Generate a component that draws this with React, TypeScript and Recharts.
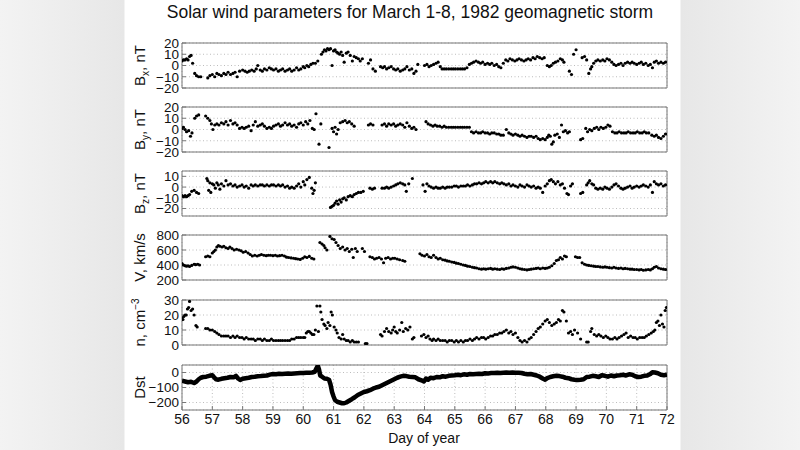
import { ScatterChart, Scatter, LineChart, Line, XAxis, YAxis, CartesianGrid, ReferenceArea } from 'recharts'

const DAY_TICKS = [56, 57, 58, 59, 60, 61, 62, 63, 64, 65, 66, 67, 68, 69, 70, 71, 72]

const B_TICKS = [-20, -10, 0, 10, 20]
const BZ_TICKS = [-20, -10, 0, 10]
const V_TICKS = [200, 400, 600, 800]
const N_TICKS = [0, 10, 20, 30]
const DST_TICKS = [-200, -100, 0]

// [day of year, value]
const BX: [number, number][] = [
  [56.0, 4], [56.05, 5], [56.1, 5], [56.15, 6], [56.2, 5], [56.25, 8], [56.3, 9], [56.35, 2], [56.42, -7], [56.48, -9], [56.55, -10], [56.62, -10],
  [56.85, -11], [56.92, -9], [57.0, -8], [57.08, -10], [57.15, -7], [57.22, -8], [57.3, -9], [57.38, -7], [57.45, -8], [57.52, -6], [57.6, -8], [57.68, -7], [57.75, -6], [57.82, -10],
  [57.9, -5], [58.0, -4], [58.08, -5], [58.15, -6], [58.22, -5], [58.3, -4], [58.38, -5], [58.45, -3], [58.5, 0], [58.58, -4], [58.65, -5], [58.72, -3], [58.8, -4], [58.88, -2], [58.95, -3],
  [59.02, -4], [59.1, -3], [59.18, -5], [59.25, -4], [59.32, -3], [59.4, -5], [59.48, -4], [59.55, -3], [59.62, -5], [59.7, -4], [59.78, -2], [59.85, -4], [59.92, -3], [60.0, -1], [60.05, -2], [60.12, 0], [60.18, -1], [60.25, 1], [60.32, 2], [60.4, 2], [60.48, 4],
  [60.6, 10], [60.65, 12], [60.7, 14], [60.75, 13], [60.8, 15], [60.85, 14], [60.9, 15], [60.95, 0], [61.0, 13], [61.05, 14], [61.1, 12], [61.15, 11], [61.2, 10], [61.25, 12], [61.3, 9], [61.35, 3], [61.42, 11], [61.48, 12], [61.55, 9], [61.62, 4], [61.68, 8], [61.75, 7], [61.82, 6], [61.88, 4], [61.95, 6],
  [62.15, 2], [62.22, 5], [62.3, -3], [62.38, -5],
  [62.55, -1], [62.62, -2], [62.68, -1], [62.75, -3], [62.82, -2], [62.9, -1], [62.98, -3], [63.05, -4], [63.12, -3], [63.2, -5], [63.28, -4], [63.35, -3], [63.42, -1], [63.5, -4], [63.58, -3], [63.65, -7], [63.72, -5], [63.78, 1],
  [64.0, 0], [64.08, 1], [64.15, -1], [64.22, 0], [64.3, 1], [64.38, 2], [64.45, 3], [64.52, -1], [64.58, -3], [64.65, -3], [64.72, -3], [64.8, -3], [64.88, -3], [64.95, -3], [65.02, -3], [65.1, -3], [65.18, -3], [65.25, -3], [65.32, -3], [65.4, -2],
  [65.48, 1], [65.55, 2], [65.62, 3], [65.7, 4], [65.78, 3], [65.85, 2], [65.92, 3], [66.0, 1], [66.08, 2], [66.15, 1], [66.22, 2], [66.3, 0], [66.38, 1], [66.45, -1], [66.52, -2],
  [66.6, 2], [66.68, 5], [66.75, 4], [66.82, 6], [66.9, 5], [66.98, 4], [67.05, 5], [67.12, 6], [67.2, 5], [67.28, 4], [67.35, 5], [67.42, 6], [67.5, 5], [67.58, 7], [67.65, 6], [67.72, 8], [67.8, 7], [67.88, 6], [67.95, 7],
  [68.05, 0], [68.12, -1], [68.18, 0], [68.25, 2], [68.32, 3], [68.4, 4], [68.48, 6], [68.55, 5], [68.6, 3], [68.78, -5], [68.85, -8], [68.92, 10], [69.0, 14],
  [69.2, 7], [69.28, 8], [69.35, 5], [69.42, -7], [69.48, -3], [69.52, -1], [69.58, 2], [69.65, 4], [69.72, 5], [69.8, 4], [69.88, 5], [69.95, 4], [70.02, 6], [70.1, 5], [70.18, 3], [70.25, 1], [70.32, 0], [70.4, 1], [70.48, 2], [70.55, 0], [70.62, 2], [70.7, 3], [70.78, 2], [70.85, 3], [70.92, 2],
  [71.0, 1], [71.08, 2], [71.15, 3], [71.22, 1], [71.3, 2], [71.38, 0], [71.45, 1], [71.52, -2], [71.58, 3], [71.65, 4], [71.72, 2], [71.8, 3], [71.88, 2], [71.95, 3],
]

const BY: [number, number][] = [
  [56.0, 1], [56.05, 2], [56.1, 0], [56.15, -2], [56.22, -1], [56.28, -6], [56.33, -3], [56.42, 10], [56.48, 12], [56.55, 13],
  [56.78, 12], [56.85, 10], [56.92, 8], [56.97, 5], [57.02, 0], [57.08, 4], [57.15, 5], [57.22, 4], [57.3, 6], [57.38, 5], [57.45, 7], [57.52, 4], [57.6, 8], [57.68, 5], [57.75, 6], [57.82, 4],
  [57.9, 1], [57.98, 2], [58.05, 1], [58.12, 2], [58.2, 3], [58.28, -1], [58.35, 4], [58.42, 7], [58.5, 3], [58.58, 4], [58.65, 5], [58.72, 3], [58.8, 1], [58.88, 2], [58.95, 1],
  [59.02, 3], [59.1, 4], [59.18, 5], [59.25, 3], [59.32, 4], [59.4, 6], [59.48, 4], [59.55, 5], [59.62, 3], [59.7, 4], [59.78, 2], [59.85, 5], [59.92, 6], [60.0, 4], [60.08, 7], [60.15, 5], [60.22, 8], [60.3, 1], [60.36, 0],
  [60.42, 14], [60.52, -13], [60.58, 5], [60.85, -16], [60.95, 1], [61.0, -2], [61.05, 2], [61.1, -4], [61.15, 0], [61.22, 6], [61.3, 7], [61.38, 8], [61.45, 6], [61.52, 7], [61.6, 5], [61.68, 3],
  [62.15, 4], [62.22, 5], [62.3, 4],
  [62.6, 4], [62.68, 5], [62.75, 3], [62.82, 5], [62.9, 4], [62.98, 5], [63.05, 3], [63.12, 4], [63.2, 5], [63.28, 4], [63.35, 2], [63.42, 6], [63.5, 3], [63.58, 1], [63.65, 2], [63.72, 0],
  [64.05, 7], [64.12, 5], [64.2, 4], [64.28, 3], [64.35, 4], [64.42, 3], [64.5, 3], [64.58, 2], [64.65, 3], [64.72, 2], [64.8, 2], [64.88, 2], [64.95, 2], [65.02, 2], [65.1, 2], [65.18, 2], [65.25, 2], [65.32, 2], [65.4, 2], [65.48, 2],
  [65.55, -2], [65.62, -3], [65.7, -2], [65.78, -3], [65.85, -3], [65.92, -2], [66.0, -3], [66.08, -3], [66.15, -4], [66.22, -3], [66.3, -3], [66.38, -4], [66.45, -4], [66.52, -5], [66.6, -5],
  [66.7, 0], [66.78, -3], [66.85, -4], [66.92, -5], [67.0, -4], [67.08, -5], [67.15, -6], [67.22, -5], [67.3, -6], [67.38, -7], [67.45, -6], [67.52, -6], [67.6, -7], [67.68, -6], [67.75, -8], [67.82, -9], [67.9, -8], [67.98, -9],
  [68.05, -7], [68.1, -5], [68.15, -6], [68.2, -13], [68.25, -11], [68.3, -5], [68.38, -4], [68.45, -7], [68.52, 4], [68.58, -2], [68.65, -1], [68.72, -3], [68.78, -2],
  [69.15, -9], [69.22, -8], [69.32, 1], [69.38, -2], [69.45, 0], [69.52, -1], [69.6, 1], [69.68, 2], [69.75, 0], [69.82, 2], [69.9, 1], [69.98, 2], [70.05, 4], [70.12, 3],
  [70.2, -2], [70.28, -3], [70.35, -3], [70.42, -2], [70.5, -3], [70.58, -3], [70.65, -3], [70.72, -2], [70.8, -3], [70.88, -3], [70.95, -3], [71.02, -2], [71.1, -3], [71.18, -3], [71.25, -2], [71.32, -3], [71.4, -3],
  [71.5, -5], [71.58, -6], [71.65, -5], [71.72, -7], [71.8, -8], [71.88, -6], [71.95, -4],
]

const BZ: [number, number][] = [
  [56.0, -8], [56.05, -9], [56.1, -8], [56.15, -9], [56.2, -8], [56.25, -7], [56.32, -4], [56.4, -3], [56.48, -5], [56.55, -6],
  [56.82, 8], [56.85, 6], [56.88, -3], [56.92, 4], [56.95, -5], [57.0, 3], [57.05, 2], [57.1, -1], [57.15, 4], [57.2, 2], [57.25, -2], [57.3, 3], [57.38, 1], [57.45, 6], [57.52, 2], [57.6, 3], [57.68, 1], [57.75, 2], [57.82, 0],
  [57.9, 1], [57.98, 2], [58.05, 0], [58.12, 1], [58.2, -1], [58.28, 2], [58.35, 1], [58.42, 2], [58.5, 1], [58.58, 2], [58.65, 2], [58.72, 1], [58.8, 2], [58.88, 1], [58.95, 2],
  [59.02, 2], [59.1, 1], [59.18, 2], [59.25, 1], [59.32, 2], [59.4, 0], [59.48, 1], [59.55, -1], [59.62, 0], [59.7, -1], [59.78, 1], [59.85, 3], [59.92, 0], [60.0, 5], [60.05, 2], [60.12, 7], [60.2, 9], [60.28, -1],
  [60.32, -6], [60.36, -3], [60.4, 4],
  [60.9, -19], [60.95, -18], [61.0, -17], [61.05, -15], [61.1, -13], [61.15, -16], [61.2, -12], [61.25, -14], [61.3, -11], [61.35, -10], [61.42, -12], [61.48, -9], [61.55, -8], [61.62, -9], [61.68, -7], [61.75, -6], [61.82, -5], [61.9, -5], [61.98, -4],
  [62.2, -1], [62.28, -2], [62.35, -1],
  [62.6, -1], [62.68, -1], [62.75, 0], [62.82, -1], [62.9, 0], [62.98, 1], [63.05, 2], [63.12, 3], [63.2, 4], [63.28, 3], [63.35, 2], [63.4, -4], [63.48, 3], [63.6, 8],
  [63.95, 2], [64.02, -4], [64.08, 3], [64.15, 1], [64.22, 0], [64.3, -1], [64.38, 0], [64.45, -1], [64.52, -1], [64.6, 0], [64.68, -1], [64.75, 0], [64.82, 0], [64.9, 0], [64.98, 1],
  [65.05, 1], [65.12, 0], [65.2, 1], [65.28, 1], [65.35, 1], [65.42, 2], [65.5, 1], [65.58, 2], [65.65, 3], [65.72, 3], [65.8, 4], [65.88, 3], [65.95, 4], [66.02, 5], [66.1, 4], [66.18, 5], [66.25, 4], [66.32, 5], [66.4, 4],
  [66.48, 3], [66.55, 4], [66.62, 3], [66.7, 2], [66.78, 3], [66.85, 1], [66.92, 2], [67.0, 1], [67.08, 0], [67.15, 2], [67.22, 1], [67.3, 0], [67.38, 2], [67.45, 1], [67.52, 0], [67.6, 1], [67.68, -1], [67.75, 0], [67.82, -1],
  [67.9, -5], [67.98, 1], [68.05, 3], [68.12, 6], [68.18, 7], [68.25, 5], [68.32, 3], [68.4, 5], [68.48, 2], [68.55, 3], [68.62, -1], [68.7, -6], [68.75, -7], [68.82, 1], [68.88, 3],
  [69.15, -6], [69.22, -5], [69.35, 2], [69.4, 4], [69.45, 6], [69.52, 3], [69.58, 2], [69.65, -1], [69.72, -2], [69.8, -1], [69.88, -2], [69.95, 0], [70.02, -1], [70.1, -2], [70.18, 0], [70.25, 2], [70.32, 3],
  [70.4, 1], [70.48, -1], [70.55, -2], [70.62, -1], [70.7, 0], [70.78, 1], [70.85, -1], [70.92, 0], [71.0, 1], [71.08, 0], [71.15, 1], [71.22, 2], [71.3, 1], [71.38, 0], [71.45, 2], [71.52, -5], [71.58, 5], [71.65, 3], [71.72, 2], [71.8, 3], [71.88, 1], [71.95, 2],
]

const V: [number, number][] = [
  [56.0, 420], [56.05, 400], [56.1, 390], [56.15, 385], [56.2, 390], [56.25, 380], [56.32, 395], [56.4, 410], [56.45, 405], [56.52, 410], [56.58, 400],
  [56.78, 510], [56.85, 520], [56.92, 510], [57.0, 560], [57.05, 580], [57.1, 600], [57.15, 640], [57.2, 660], [57.25, 650], [57.32, 640], [57.38, 650], [57.45, 630], [57.52, 620], [57.58, 640], [57.65, 620],
  [57.72, 600], [57.8, 610], [57.88, 600], [57.95, 590], [58.02, 570], [58.1, 580], [58.18, 560], [58.25, 540], [58.32, 520], [58.4, 530], [58.48, 520], [58.55, 530], [58.62, 540], [58.7, 530], [58.78, 525], [58.85, 530], [58.92, 530],
  [59.0, 525], [59.08, 530], [59.15, 520], [59.22, 525], [59.3, 530], [59.38, 520], [59.45, 505], [59.52, 500], [59.6, 495], [59.68, 490], [59.75, 485], [59.82, 480], [59.9, 475], [59.98, 490], [60.05, 510], [60.12, 500], [60.2, 515], [60.28, 490], [60.35, 480],
  [60.55, 700], [60.62, 680], [60.68, 660], [60.72, 630], [60.78, 600], [60.88, 780], [60.95, 750], [61.02, 740], [61.08, 700], [61.15, 660], [61.22, 620], [61.3, 640], [61.38, 600], [61.45, 620], [61.52, 580], [61.6, 610], [61.65, 500], [61.72, 620], [61.78, 580],
  [61.95, 620], [62.02, 580],
  [62.2, 510], [62.28, 500], [62.35, 480], [62.42, 490], [62.5, 500], [62.58, 480], [62.65, 430], [62.72, 490], [62.8, 500], [62.88, 480], [62.95, 490], [63.02, 490], [63.1, 480], [63.18, 470], [63.28, 460], [63.35, 450],
  [63.85, 550], [63.92, 530], [64.0, 520], [64.08, 540], [64.15, 510], [64.22, 500], [64.3, 530], [64.38, 500], [64.45, 480], [64.52, 490], [64.6, 470], [64.68, 465], [64.75, 455], [64.82, 450], [64.9, 440], [64.98, 435],
  [65.05, 425], [65.12, 420], [65.2, 410], [65.28, 400], [65.35, 395], [65.42, 385], [65.5, 380], [65.58, 370], [65.65, 365], [65.72, 360], [65.8, 350], [65.88, 345], [65.95, 350], [66.02, 345], [66.1, 350], [66.18, 355], [66.25, 345],
  [66.32, 350], [66.4, 345], [66.48, 340], [66.55, 350], [66.62, 345], [66.7, 355], [66.78, 360], [66.85, 370], [66.92, 375], [67.0, 370], [67.08, 360], [67.15, 350], [67.22, 345], [67.3, 340], [67.38, 335], [67.45, 340],
  [67.52, 345], [67.6, 350], [67.68, 355], [67.75, 360], [67.82, 350], [67.9, 360], [67.98, 355], [68.05, 360], [68.12, 370], [68.2, 390], [68.28, 420], [68.35, 460], [68.42, 470], [68.48, 500], [68.55, 480], [68.62, 520], [68.68, 510],
  [68.98, 510], [69.05, 500], [69.12, 500],
  [69.2, 430], [69.28, 410], [69.35, 400], [69.42, 395], [69.5, 390], [69.58, 385], [69.65, 380], [69.72, 380], [69.8, 375], [69.88, 370], [69.95, 375], [70.02, 370], [70.1, 365], [70.18, 360], [70.25, 370], [70.32, 360],
  [70.4, 355], [70.48, 360], [70.55, 350], [70.62, 355], [70.7, 350], [70.78, 345], [70.85, 345], [70.92, 340], [71.0, 340], [71.08, 335], [71.15, 340], [71.22, 330], [71.3, 335], [71.38, 340], [71.45, 335],
  [71.52, 350], [71.58, 370], [71.65, 380], [71.72, 360], [71.8, 350], [71.88, 345], [71.95, 340],
]

const N: [number, number][] = [
  [56.0, 18], [56.03, 17], [56.06, 19], [56.1, 20], [56.14, 20], [56.18, 24], [56.22, 25], [56.25, 29], [56.3, 23], [56.35, 24], [56.4, 20], [56.46, 13], [56.5, 12],
  [56.78, 11], [56.85, 11], [56.92, 10], [57.0, 10], [57.08, 9], [57.15, 8], [57.22, 7], [57.3, 6], [57.38, 6], [57.45, 6], [57.52, 6], [57.6, 5], [57.68, 6], [57.75, 5], [57.82, 6], [57.9, 5], [57.98, 5],
  [58.05, 4], [58.12, 5], [58.2, 4], [58.28, 4], [58.35, 4], [58.42, 3], [58.5, 4], [58.58, 4], [58.65, 3], [58.72, 4], [58.8, 3], [58.88, 3], [58.95, 4], [59.02, 3], [59.1, 3], [59.18, 3], [59.25, 3], [59.32, 3],
  [59.4, 3], [59.48, 3], [59.55, 3], [59.62, 4], [59.7, 4], [59.78, 5], [59.85, 5], [59.92, 5], [60.0, 5], [60.05, 5], [60.1, 8], [60.15, 9], [60.2, 9], [60.25, 8], [60.3, 7], [60.35, 7], [60.4, 10],
  [60.45, 26], [60.5, 9], [60.55, 26], [60.58, 22], [60.62, 17], [60.68, 14], [60.72, 13], [60.78, 11], [60.82, 15], [60.88, 13], [60.92, 22], [60.96, 20], [61.02, 12], [61.08, 10], [61.12, 8], [61.18, 5],
  [61.25, 4], [61.3, 7], [61.35, 4], [61.42, 3], [61.48, 3], [61.55, 2], [61.62, 3], [61.68, 2], [61.75, 2], [61.82, 2],
  [62.05, 1], [62.1, 1],
  [62.55, 7], [62.6, 6], [62.68, 9], [62.75, 11], [62.82, 9], [62.9, 8], [62.95, 10], [63.0, 12], [63.05, 9], [63.1, 8], [63.18, 10], [63.25, 15], [63.3, 9], [63.38, 11], [63.45, 10], [63.52, 12], [63.6, 4], [63.65, 5],
  [63.9, 6], [63.98, 7], [64.05, 5], [64.12, 6], [64.18, 4], [64.25, 3], [64.3, 4], [64.38, 3], [64.45, 4], [64.52, 3], [64.6, 3], [64.68, 3], [64.75, 2], [64.82, 3], [64.9, 3], [64.98, 2],
  [65.05, 3], [65.12, 2], [65.2, 3], [65.28, 2], [65.35, 3], [65.42, 3], [65.5, 4], [65.58, 3], [65.65, 4], [65.72, 5], [65.8, 4], [65.88, 5], [65.95, 5], [66.02, 4], [66.1, 5], [66.18, 6], [66.25, 6],
  [66.32, 7], [66.4, 7], [66.48, 8], [66.55, 8], [66.62, 9], [66.7, 10], [66.78, 8], [66.85, 9], [66.92, 7], [67.0, 8], [67.08, 5], [67.15, 3], [67.22, 2], [67.3, 3], [67.38, 2],
  [67.45, 4], [67.52, 5], [67.6, 7], [67.68, 9], [67.75, 11], [67.82, 12], [67.9, 14], [67.98, 16], [68.05, 17], [68.12, 15], [68.2, 13], [68.28, 14], [68.35, 15], [68.42, 17], [68.48, 16], [68.55, 23], [68.6, 22],
  [68.68, 16], [68.75, 8], [68.82, 9], [68.88, 7], [68.95, 10], [69.05, 8], [69.15, 4],
  [69.35, 2], [69.4, 2], [69.48, 9], [69.52, 11], [69.6, 7], [69.68, 6], [69.75, 7], [69.82, 6], [69.9, 5], [69.98, 6], [70.05, 5], [70.12, 4], [70.2, 4], [70.28, 5], [70.35, 4], [70.42, 5],
  [70.5, 6], [70.58, 7], [70.65, 8], [70.72, 5], [70.8, 6], [70.88, 5], [70.95, 5], [71.02, 4], [71.1, 5], [71.18, 5], [71.25, 5], [71.32, 6], [71.4, 7], [71.48, 8], [71.55, 9], [71.6, 10],
  [71.65, 15], [71.7, 16], [71.75, 13], [71.8, 20], [71.85, 14], [71.9, 12], [71.94, 23], [71.98, 25],
]

const DST: [number, number][] = [
  [56.0, -55], [56.1, -60], [56.2, -65], [56.3, -62], [56.4, -70], [56.48, -60], [56.55, -45], [56.62, -35], [56.7, -30], [56.8, -28], [56.9, -22], [57.0, -18], [57.05, -30], [57.12, -45],
  [57.2, -48], [57.3, -42], [57.4, -38], [57.5, -35], [57.6, -30], [57.7, -32], [57.78, -22], [57.85, -40], [57.92, -50], [58.0, -42], [58.1, -38], [58.2, -35], [58.3, -30], [58.4, -28],
  [58.5, -25], [58.6, -24], [58.7, -22], [58.8, -20], [58.9, -14], [59.0, -10], [59.1, -12], [59.2, -8], [59.3, -10], [59.4, -8], [59.5, -7], [59.6, -8], [59.7, -6], [59.8, -5], [59.9, -4],
  [60.0, -3], [60.1, -2], [60.2, -1], [60.3, 0], [60.38, 5], [60.44, 30], [60.48, 45], [60.52, 20], [60.56, -20], [60.62, -28], [60.7, -40], [60.78, -42], [60.85, -48], [60.9, -80],
  [60.95, -130], [61.0, -160], [61.05, -185], [61.12, -195], [61.2, -200], [61.28, -205], [61.35, -205], [61.42, -200], [61.5, -190], [61.6, -178], [61.7, -165], [61.8, -150], [61.9, -140],
  [62.0, -130], [62.1, -125], [62.2, -118], [62.3, -108], [62.4, -100], [62.5, -95], [62.6, -85], [62.7, -75], [62.8, -65], [62.9, -55], [63.0, -45], [63.1, -35], [63.2, -28], [63.3, -22],
  [63.4, -24], [63.5, -28], [63.6, -30], [63.7, -32], [63.8, -45], [63.9, -52], [63.98, -60], [64.05, -40], [64.12, -48], [64.2, -35], [64.3, -38], [64.4, -30], [64.5, -32], [64.6, -25],
  [64.7, -28], [64.8, -22], [64.9, -20], [65.0, -18], [65.1, -15], [65.2, -18], [65.3, -12], [65.4, -15], [65.5, -10], [65.6, -12], [65.7, -10], [65.8, -8], [65.9, -10], [66.0, -5],
  [66.1, -6], [66.2, -4], [66.3, -3], [66.4, -2], [66.5, -4], [66.6, -2], [66.7, 0], [66.8, -1], [66.9, 0], [67.0, -2], [67.1, -1], [67.2, -3], [67.3, -8], [67.4, -12], [67.5, -10],
  [67.6, -15], [67.7, -20], [67.8, -28], [67.9, -40], [67.98, -48], [68.05, -38], [68.15, -30], [68.25, -25], [68.35, -22], [68.45, -24], [68.55, -28], [68.65, -35], [68.75, -38],
  [68.85, -45], [68.95, -48], [69.05, -50], [69.15, -48], [69.25, -45], [69.35, -30], [69.45, -28], [69.55, -22], [69.65, -25], [69.75, -30], [69.85, -18], [69.95, -22], [70.05, -28],
  [70.15, -20], [70.25, -25], [70.35, -20], [70.45, -18], [70.55, -15], [70.65, -20], [70.75, -12], [70.85, -15], [70.95, -25], [71.05, -30], [71.15, -28], [71.25, -22], [71.35, -20],
  [71.45, -10], [71.52, 2], [71.6, 0], [71.7, -5], [71.8, -15], [71.9, -18], [72.0, -15],
]

const FONT = '"Liberation Sans", Arial, sans-serif'
const minus = (v: number) => (v < 0 ? '\u2212' + Math.abs(v) : String(v))
const toRows = (arr: [number, number][]) => arr.map(([day, v]) => ({ day, v }))

const Dot = (p: any) => <circle cx={p.cx} cy={p.cy} r={1.6} fill="#000" />

function frame(domain: [number, number], ticks: number[], last: boolean) {
  return [
    <CartesianGrid key="g" stroke="#bdbdbd" strokeDasharray="1 2.5" />,
    <XAxis
      key="x"
      type="number"
      dataKey="day"
      domain={[56, 72]}
      ticks={DAY_TICKS}
      interval={0}
      allowDataOverflow
      axisLine={false}
      tickSize={-4}
      tickMargin={last ? 8 : 0}
      tickLine={{ stroke: '#777' }}
      tick={last ? { fontSize: 14, fill: '#111' } : false}
      height={last ? 40 : 0}
    />,
    <XAxis key="xt" xAxisId="t" orientation="top" type="number" domain={[56, 72]} ticks={DAY_TICKS} interval={0} axisLine={false} tickSize={-4} tickLine={{ stroke: '#777' }} tick={false} height={0} />,
    <YAxis
      key="y"
      type="number"
      dataKey="v"
      domain={domain}
      ticks={ticks}
      interval={0}
      allowDataOverflow
      axisLine={false}
      tickSize={-4}
      tickMargin={7}
      tickLine={{ stroke: '#777' }}
      tickFormatter={minus}
      tick={{ fontSize: 13.5, fill: '#111' }}
      width={50}
    />,
    <YAxis key="yr" yAxisId="r" orientation="right" type="number" domain={domain} ticks={ticks} interval={0} axisLine={false} tickSize={-4} tickLine={{ stroke: '#777' }} tick={false} width={0} />,
    <ReferenceArea key="f" x1={56} x2={72} y1={domain[0]} y2={domain[1]} fill="none" fillOpacity={0} stroke="#777" strokeWidth={1} ifOverflow="visible" />,
  ]
}

const PANEL_H = 45
const PAD = 12
const MARGIN = { top: PAD, bottom: PAD, left: 132, right: 133 }

function ScatterPanel({ top, data, domain, ticks }: { top: number; data: [number, number][]; domain: [number, number]; ticks: number[] }) {
  return (
    <div style={{ position: 'absolute', left: 0, top: top - PAD }}>
      <ScatterChart width={800} height={PANEL_H + 2 * PAD} margin={MARGIN}>
        {frame(domain, ticks, false)}
        <Scatter data={toRows(data)} dataKey="v" fill="#000" shape={Dot} isAnimationActive={false} />
      </ScatterChart>
    </div>
  )
}

function DstPanel({ top }: { top: number }) {
  return (
    <div style={{ position: 'absolute', left: 0, top: top - PAD }}>
      <LineChart width={800} height={PANEL_H + 2 * PAD + 40} data={toRows(DST)} margin={MARGIN}>
        {frame([-250, 50], DST_TICKS, true)}
        <Line type="linear" dataKey="v" stroke="#000" strokeWidth={4.5} dot={false} strokeLinejoin="round" isAnimationActive={false} />
      </LineChart>
    </div>
  )
}

const TOPS = [43, 107, 171, 235, 300, 365]

function YLabel({ y, children }: { y: number; children: any }) {
  return (
    <text transform={`translate(145, ${y}) rotate(-90)`} textAnchor="middle" fontSize={15} fill="#111">
      {children}
    </text>
  )
}

export default function App() {
  const mid = (i: number) => TOPS[i] + PANEL_H / 2
  return (
    <div
      style={{
        position: 'absolute',
        left: 0,
        top: 0,
        width: 800,
        height: 450,
        fontFamily: FONT,
        background: 'linear-gradient(to right, #f3f3f3 0px, #e7e7e7 124px, #ffffff 125px, #ffffff 680px, #e7e7e7 681px, #f3f3f3 800px)',
      }}
    >
      <ScatterPanel top={TOPS[0]} data={BX} domain={[-20, 20]} ticks={B_TICKS} />
      <ScatterPanel top={TOPS[1]} data={BY} domain={[-20, 20]} ticks={B_TICKS} />
      <ScatterPanel top={TOPS[2]} data={BZ} domain={[-27, 15]} ticks={BZ_TICKS} />
      <ScatterPanel top={TOPS[3]} data={V} domain={[200, 800]} ticks={V_TICKS} />
      <ScatterPanel top={TOPS[4]} data={N} domain={[0, 30]} ticks={N_TICKS} />
      <DstPanel top={TOPS[5]} />
      <svg width={800} height={450} style={{ position: 'absolute', left: 0, top: 0, pointerEvents: 'none', fontFamily: FONT }}>
        <text x={410} y={18} textAnchor="middle" fontSize={17.5} fill="#111">
          Solar wind parameters for March 1-8, 1982 geomagnetic storm
        </text>
        <YLabel y={mid(0)}>
          B<tspan dy={4} fontSize={10}>x</tspan>
          <tspan dy={-4}>, nT</tspan>
        </YLabel>
        <YLabel y={mid(1)}>
          B<tspan dy={4} fontSize={10}>y</tspan>
          <tspan dy={-4}>, nT</tspan>
        </YLabel>
        <YLabel y={mid(2)}>
          B<tspan dy={4} fontSize={10}>z</tspan>
          <tspan dy={-4}>, nT</tspan>
        </YLabel>
        <YLabel y={mid(3)}>V, km/s</YLabel>
        <YLabel y={mid(4)}>
          n, cm<tspan dy={-6} fontSize={10}>{'\u22123'}</tspan>
        </YLabel>
        <YLabel y={mid(5)}>Dst</YLabel>
        <text x={424} y={443} textAnchor="middle" fontSize={14} fill="#111">
          Day of year
        </text>
      </svg>
    </div>
  )
}
